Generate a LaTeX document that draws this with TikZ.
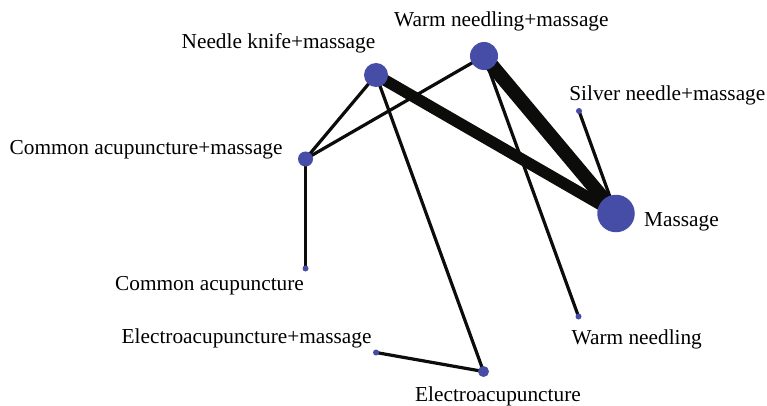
\documentclass[tikz,border=0pt]{standalone}
\usepackage{fontspec}
\setmainfont{Liberation Serif}
\usetikzlibrary{backgrounds}
\definecolor{dotblue}{RGB}{70,77,167}
\definecolor{edgeblack}{RGB}{12,12,10}
\tikzset{
  dot/.style={circle,fill=dotblue,draw=none,inner sep=0pt,minimum size=#1},
  lbl/.style={anchor=base west,inner sep=0pt,font=\fontsize{21.3}{25}\selectfont},
  thin edge/.style={draw=edgeblack,line width=3.2pt},
  fat edge/.style={draw=edgeblack,line width=#1},
}
\begin{document}
\begin{tikzpicture}[x=1pt,y=-1pt]
\useasboundingbox (0,0) rectangle (767,406);
% nodes
\node[dot=28pt] (wnm) at (484,56) {};
\node[dot=24pt] (nkm) at (376,75) {};
\node[dot=6pt] (snm) at (579,111) {};
\node[dot=15pt] (cam) at (305.5,159) {};
\node[dot=37.5pt] (ms) at (616,213.5) {};
\node[dot=6pt] (ca) at (305.5,268.5) {};
\node[dot=6pt] (wn) at (578.5,316.5) {};
\node[dot=6pt] (eam) at (376,352.5) {};
\node[dot=11pt] (ea) at (483.5,371.5) {};
% labels
\node[lbl] (lwnm) at (394,26.5) {Warm needling+massage};
\node[lbl] (lnkm) at (181.5,49) {Needle knife+massage};
\node[lbl,anchor=base east] (lsnm) at (765.5,101) {Silver needle+massage};
\node[lbl] (lcam) at (9.5,155) {Common acupuncture+massage};
\node[lbl] (lms) at (644,226) {Massage};
\node[lbl] (lca) at (115,290) {Common acupuncture};
\node[lbl] (lwn) at (571.5,344) {Warm needling};
\node[lbl] (leam) at (121.5,343) {Electroacupuncture+massage};
\node[lbl] (lea) at (415,401.5) {Electroacupuncture};
% edges
\begin{scope}[on background layer]
\draw[fat edge=14pt] (wnm.center) -- (ms.center);
\draw[fat edge=11.5pt] (nkm.center) -- (ms.center);
\draw[thin edge] (nkm.center) -- (cam.center);
\draw[thin edge] (wnm.center) -- (cam.center);
\draw[thin edge] (nkm.center) -- (ea.center);
\draw[thin edge] (wnm.center) -- (wn.center);
\draw[thin edge] (snm.center) -- (ms.center);
\draw[thin edge] (cam.center) -- (ca.center);
\draw[thin edge] (eam.center) -- (ea.center);
\end{scope}
\end{tikzpicture}
\end{document}
